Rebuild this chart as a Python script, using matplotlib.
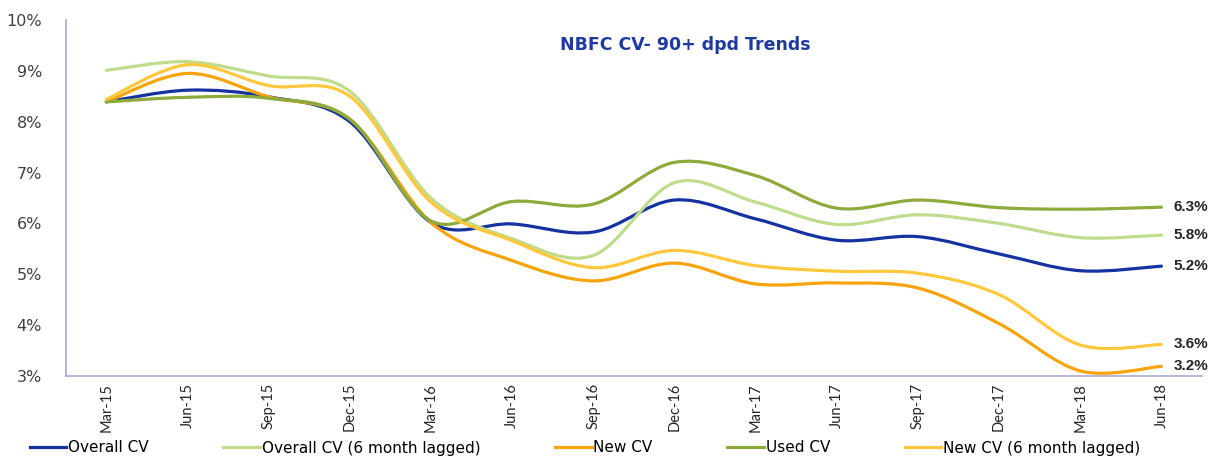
import matplotlib
matplotlib.use("Agg")
import matplotlib.pyplot as plt
from matplotlib.path import Path
from matplotlib.patches import PathPatch
from matplotlib.ticker import FuncFormatter

# ---- data ----
quarters = ["Mar-15", "Jun-15", "Sep-15", "Dec-15", "Mar-16", "Jun-16", "Sep-16",
            "Dec-16", "Mar-17", "Jun-17", "Sep-17", "Dec-17", "Mar-18", "Jun-18"]
overall_cv = [8.39, 8.62, 8.49, 8.00, 6.02, 5.99, 5.83, 6.46, 6.09, 5.67, 5.74, 5.40, 5.07, 5.16]
overall_cv_lag = [9.01, 9.18, 8.90, 8.60, 6.50, 5.70, 5.37, 6.80, 6.42, 5.98, 6.17, 6.00, 5.72, 5.77]
new_cv = [8.39, 8.95, 8.49, 8.05, 6.02, 5.27, 4.87, 5.22, 4.81, 4.83, 4.73, 4.03, 3.10, 3.19]
used_cv = [8.39, 8.48, 8.46, 8.05, 6.05, 6.43, 6.38, 7.20, 6.94, 6.30, 6.46, 6.31, 6.28, 6.32]
new_cv_lag = [8.44, 9.12, 8.71, 8.50, 6.42, 5.66, 5.13, 5.47, 5.17, 5.06, 5.02, 4.60, 3.61, 3.62]
series_names = ["Overall CV", "Overall CV (6 month lagged)", "New CV", "Used CV",
                "New CV (6 month lagged)"]
y_ticks = [3, 4, 5, 6, 7, 8, 9, 10]
title = "NBFC CV- 90+ dpd Trends"

colors = ["#1432A0", "#BFDC8C", "#F7A30A", "#8DAA3C", "#FFC83C"]
series = [overall_cv, overall_cv_lag, new_cv, used_cv, new_cv_lag]


def smooth_path(xs, ys):
    """Excel-style smoothed line: cubic Bezier segments through the data points."""
    n = len(xs)
    verts = [(xs[0], ys[0])]
    codes = [Path.MOVETO]
    for i in range(n - 1):
        x0, y0 = xs[max(i - 1, 0)], ys[max(i - 1, 0)]
        x1, y1 = xs[i], ys[i]
        x2, y2 = xs[i + 1], ys[i + 1]
        x3, y3 = xs[min(i + 2, n - 1)], ys[min(i + 2, n - 1)]
        c1 = (x1 + (x2 - x0) / 6.0, y1 + (y2 - y0) / 6.0)
        c2 = (x2 - (x3 - x1) / 6.0, y2 - (y3 - y1) / 6.0)
        verts += [c1, c2, (x2, y2)]
        codes += [Path.CURVE4, Path.CURVE4, Path.CURVE4]
    return Path(verts, codes)


fig = plt.figure(figsize=(12.13, 4.57), dpi=100)
ax = fig.add_axes([65.7 / 1213, 81 / 457, (1202 - 65.7) / 1213, (376 - 20) / 457])

xs = list(range(len(quarters)))
handles = []
for name, vals, col in zip(series_names, series, colors):
    patch = PathPatch(smooth_path(xs, vals), facecolor="none", edgecolor=col,
                      lw=2.3, capstyle="round", joinstyle="round")
    ax.add_patch(patch)
    h, = ax.plot([], [], color=col, lw=2.3, label=name)
    handles.append(h)

ax.set_xlim(-0.5, len(quarters) - 0.5)
ax.set_ylim(3, 10)
ax.set_yticks(y_ticks)
ax.yaxis.set_major_formatter(FuncFormatter(lambda v, p: f"{v:.0f}%"))
ax.set_xticks(xs)
ax.set_xticklabels(quarters, rotation=90, fontsize=10.5, family="Lato", color="#262626")
ax.tick_params(axis="y", length=0, pad=17, labelsize=11.5, labelcolor="#404040")
ax.tick_params(axis="x", length=0, pad=5)
for lab in ax.get_yticklabels():
    lab.set_family("DejaVu Sans")

for s in ["top", "right"]:
    ax.spines[s].set_visible(False)
for s in ["left", "bottom"]:
    ax.spines[s].set_color("#A9A9D4")
    ax.spines[s].set_linewidth(1.2)

# end labels
for vals in series:
    ax.annotate(f"{vals[-1]:.1f}%", xy=(xs[-1], vals[-1]), xytext=(9, 0),
                textcoords="offset points", va="center", ha="left",
                fontsize=11, fontweight="bold", family="Liberation Sans",
                color="#262626", annotation_clip=False)

fig.text(685 / 1213, 1 - 45 / 457, title, ha="center", va="center",
         fontsize=12.5, fontweight="bold", family="DejaVu Sans", color="#1F3A9E")

fig.legend(handles=handles, loc="center", bbox_to_anchor=(585 / 1213, 1 - 448 / 457),
           ncol=5, frameon=False, handlelength=2.4, handletextpad=0.1,
           columnspacing=4.9, prop={"family": "DejaVu Sans", "size": 11})

fig.savefig("out.png", dpi=100)
